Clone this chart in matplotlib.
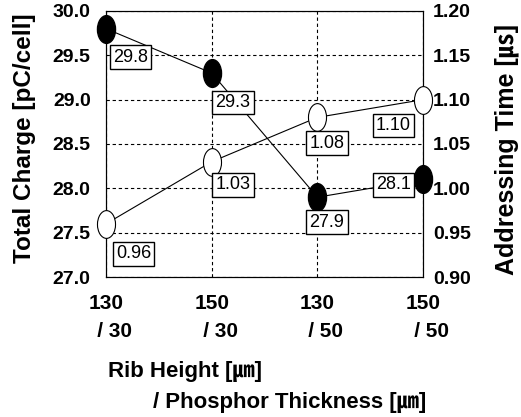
import numpy as np
import matplotlib
matplotlib.use("Agg")
import matplotlib.pyplot as plt
from matplotlib.path import Path
from matplotlib.transforms import Affine2D

plt.rcParams['font.family'] = ['Liberation Sans', 'Noto Sans CJK JP', 'DejaVu Sans']

# data
categories = ["130\n   / 30", "150\n   / 30", "130\n   / 50", "150\n   / 50"]
total_charge = [29.8, 29.3, 27.9, 28.1]
addr_time = [0.96, 1.03, 1.08, 1.10]

# label offsets (dx, dy) from each point
charge_off = [(0.23, -0.32), (0.2, -0.33), (0.09, -0.28), (-0.28, -0.06)]
time_off = [(0.26, -0.034), (0.2, -0.026), (0.09, -0.029), (-0.28, -0.029)]

x = np.arange(len(categories))

# tall ellipse marker
ellipse = Path.unit_circle().transformed(Affine2D().scale(0.65, 1.0))

fig = plt.figure(figsize=(5.21, 4.17), dpi=100)
ax = fig.add_axes([0.2035, 0.3357, 0.6085, 0.638])
ax2 = ax.twinx()

ax.plot(x, total_charge, color='black', lw=0.8, marker=ellipse, ms=20,
        mfc='black', mec='black', clip_on=False, zorder=3)
ax2.plot(x, addr_time, color='black', lw=0.8, marker=ellipse, ms=20,
         mfc='white', mec='black', mew=0.8, clip_on=False, zorder=3)

box = dict(boxstyle='square,pad=0.18', fc='white', ec='black', lw=1.0)
for xi, v, (dx, dy) in zip(x, total_charge, charge_off):
    ax2.text(xi + dx, v + dy, f"{v:.1f}", transform=ax.transData, fontsize=13,
             ha='center', va='center', bbox=box, zorder=5)
for xi, v, (dx, dy) in zip(x, addr_time, time_off):
    ax2.text(xi + dx, v + dy, f"{v:.2f}", fontsize=13,
             ha='center', va='center', bbox=box, zorder=5)

ax.set_xlim(0, 3)
ax.set_ylim(27.0, 30.0)
ax2.set_ylim(0.90, 1.20)
ax.set_yticks(np.arange(27.0, 30.01, 0.5))
ax.set_yticklabels([f"{t:.1f}" for t in np.arange(27.0, 30.01, 0.5)])
ax2.set_yticks(np.arange(0.90, 1.201, 0.05))
ax2.set_yticklabels([f"{t:.2f}" for t in np.arange(0.90, 1.201, 0.05)])
ax.set_xticks(x)
ax.set_xticklabels(categories, linespacing=1.6)

for a in (ax, ax2):
    a.tick_params(length=0, labelsize=14)
    for lab in a.get_yticklabels() + a.get_xticklabels():
        lab.set_fontweight('bold')
    for s in a.spines.values():
        s.set_linewidth(0.8)
ax.tick_params(axis='y', pad=11)
ax.tick_params(axis='x', pad=12, labelsize=15)
ax2.tick_params(axis='y', pad=7)

ax.grid(True, color='black', ls=(0, (3, 2.5)), lw=0.8)

ax.set_ylabel("Total Charge [pC/cell]", fontsize=17.5, fontweight='bold')
ax.yaxis.set_label_coords(-0.22, 0.52)
ax2.set_ylabel("Addressing Time [㎲]", fontsize=18, fontweight='bold')
ax2.yaxis.set_label_coords(1.225, 0.48)

fig.text(108 / 521, 1 - 377 / 417, "Rib Height [㎛]", fontsize=16,
         fontweight='bold', ha='left', va='baseline')
fig.text(153 / 521, 1 - 408 / 417, "/ Phosphor Thickness [㎛]", fontsize=16,
         fontweight='bold', ha='left', va='baseline')

fig.savefig("out.png", dpi=100)
